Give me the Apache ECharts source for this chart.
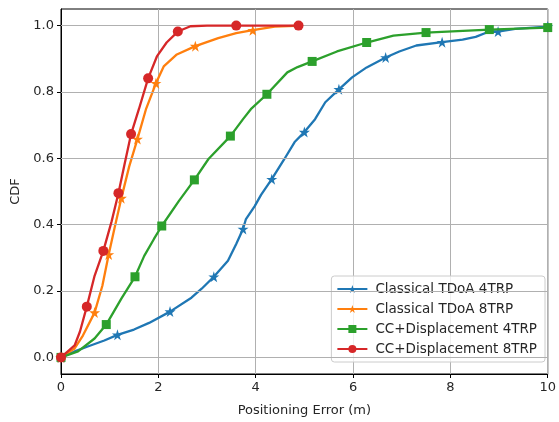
<!DOCTYPE html>
<html>
<head>
<meta charset="utf-8">
<script src="https://cdn.jsdelivr.net/npm/echarts@6/dist/echarts.min.js"></script>
<style>
  html, body { margin: 0; padding: 0; background: #fff; }
  #chart { width: 559px; height: 422px; }
</style>
</head>
<body>
<div id="chart"></div>
<script>
// Empirical CDFs of positioning error (m) for four localisation methods.
const seriesNames = [
  'Classical TDoA 4TRP',
  'Classical TDoA 8TRP',
  'CC+Displacement 4TRP',
  'CC+Displacement 8TRP'
];

const tdoa4X = [0, 0.28, 0.55, 0.89, 1.16, 1.5, 1.81, 2.24, 2.68, 2.89, 3.14, 3.43, 3.6, 3.74, 3.8, 3.98, 4.11, 4.33, 4.59, 4.8, 5.0, 5.22, 5.43, 5.71, 5.98, 6.28, 6.67, 6.95, 7.3, 7.83, 8.25, 8.52, 8.76, 8.98, 9.33, 10];
const tdoa4Y = [0, 0.018, 0.033, 0.051, 0.068, 0.084, 0.104, 0.138, 0.18, 0.207, 0.243, 0.291, 0.342, 0.387, 0.417, 0.456, 0.49, 0.537, 0.598, 0.649, 0.679, 0.718, 0.769, 0.808, 0.844, 0.874, 0.904, 0.922, 0.94, 0.95, 0.958, 0.966, 0.98, 0.982, 0.99, 0.997];
const tdoa4Marks = [0, 4, 7, 10, 13, 17, 20, 23, 26, 29, 33, 35];

const tdoa8X = [0, 0.28, 0.45, 0.69, 0.85, 0.98, 1.1, 1.24, 1.4, 1.57, 1.75, 1.95, 2.11, 2.38, 2.76, 3.23, 3.6, 3.94, 4.39, 4.95];
const tdoa8Y = [0, 0.027, 0.066, 0.135, 0.216, 0.31, 0.39, 0.48, 0.575, 0.658, 0.75, 0.826, 0.877, 0.913, 0.938, 0.962, 0.977, 0.986, 0.997, 1.0];
const tdoa8Marks = [0, 3, 5, 7, 9, 11, 14, 17];

const cc4X = [0, 0.35, 0.69, 0.93, 1.24, 1.52, 1.71, 1.91, 2.07, 2.42, 2.74, 3.03, 3.48, 3.74, 3.9, 4.23, 4.65, 4.86, 5.16, 5.67, 6.28, 6.83, 7.5, 8.8, 10];
const cc4Y = [0, 0.018, 0.057, 0.099, 0.177, 0.243, 0.306, 0.357, 0.396, 0.471, 0.535, 0.598, 0.667, 0.718, 0.748, 0.793, 0.859, 0.875, 0.892, 0.922, 0.949, 0.97, 0.979, 0.988, 0.994];
const cc4Marks = [0, 3, 5, 8, 10, 12, 15, 18, 20, 22, 23, 24];

const cc8X = [0, 0.28, 0.39, 0.53, 0.69, 0.87, 1.04, 1.18, 1.31, 1.44, 1.6, 1.79, 1.97, 2.17, 2.4, 2.66, 3.0, 3.6, 4.88];
const cc8Y = [0, 0.036, 0.078, 0.153, 0.246, 0.321, 0.41, 0.495, 0.585, 0.673, 0.748, 0.841, 0.907, 0.949, 0.982, 0.998, 1.0, 1.0, 1.0];
const cc8Marks = [0, 3, 5, 7, 9, 11, 14, 17, 18];

const xTicks = [0, 2, 4, 6, 8, 10];
const yTicks = [0, 0.2, 0.4, 0.6, 0.8, 1.0];

const colors = ['#1f77b4', '#ff7f0e', '#2ca02c', '#d62728'];
const STAR = 'path://M50,0 L61.2,34.5 L97.6,34.5 L68.2,55.9 L79.4,90.5 L50,69.1 L20.6,90.5 L31.8,55.9 L2.4,34.5 L38.8,34.5 Z';
const symbols = [STAR, STAR, 'rect', 'circle'];
const symbolSizes = [11, 11, 9, 10];

const zip = (xs, ys) => xs.map((x, i) => [x, ys[i]]);
const curves = [
  { x: tdoa4X, y: tdoa4Y, marks: tdoa4Marks },
  { x: tdoa8X, y: tdoa8Y, marks: tdoa8Marks },
  { x: cc4X, y: cc4Y, marks: cc4Marks },
  { x: cc8X, y: cc8Y, marks: cc8Marks }
];

const chart = echarts.init(document.getElementById('chart'), null, { renderer: 'canvas' });

const textColor = '#262626';
const gridColor = '#b0b0b0';
const font = 'DejaVu Sans';

// Horizontal grid lines at the labelled y ticks (the y range is padded past 0 and 1).
const yGridSeries = {
  type: 'line',
  name: '__ygrid',
  data: [],
  z: 1,
  silent: true,
  markLine: {
    silent: true,
    symbol: ['none', 'none'],
    label: { show: false },
    lineStyle: { color: gridColor, width: 1, type: 'solid' },
    emphasis: { disabled: true },
    animation: false,
    data: yTicks.map(v => ({ yAxis: v }))
  }
};

const lineSeries = curves.map((c, k) => ({
  type: 'line',
  name: seriesNames[k],
  data: zip(c.x, c.y),
  z: 3 + k,
  color: colors[k],
  lineStyle: { width: 2.3, color: colors[k] },
  itemStyle: { color: colors[k] },
  symbol: symbols[k],
  showSymbol: true,
  showAllSymbol: true,
  symbolSize: (val, p) => (c.marks.includes(p.dataIndex) ? symbolSizes[k] : 0),
  emphasis: { disabled: true },
  animation: false
}));

chart.setOption({
  backgroundColor: '#fff',
  animation: false,
  grid: {
    left: 61, right: 6, top: 9, bottom: 47,
    show: true, borderColor: '#000', borderWidth: 1, backgroundColor: 'transparent'
  },
  legend: {
    data: seriesNames,
    orient: 'vertical',
    right: 14,
    bottom: 60,
    itemWidth: 30,
    itemHeight: 10,
    itemGap: 6,
    padding: [6, 8, 6, 5],
    backgroundColor: 'rgba(255,255,255,0.8)',
    borderColor: '#cccccc',
    borderWidth: 1,
    borderRadius: 3,
    textStyle: { fontFamily: font, fontSize: 13.5, color: textColor, padding: [0, 0, 0, 3] }
  },
  xAxis: {
    type: 'value',
    min: 0, max: 10, interval: 2,
    name: 'Positioning Error (m)',
    nameLocation: 'middle',
    nameGap: 30,
    nameTextStyle: { fontFamily: font, fontSize: 13, color: textColor },
    axisLine: { show: true, onZero: false, lineStyle: { color: '#000', width: 1 } },
    axisTick: { show: true, inside: false, length: 4, lineStyle: { color: '#000' } },
    axisLabel: { fontFamily: font, fontSize: 13, color: textColor, margin: 7, formatter: v => String(v) },
    splitLine: { show: true, lineStyle: { color: gridColor, width: 1 } }
  },
  yAxis: {
    type: 'value',
    min: -0.05, max: 1.05,
    name: 'CDF',
    nameLocation: 'middle',
    nameGap: 38,
    nameRotate: 90,
    nameTextStyle: { fontFamily: font, fontSize: 13, color: textColor },
    axisLine: { show: true, onZero: false, lineStyle: { color: '#000', width: 1 } },
    axisTick: { show: true, inside: false, length: 4, lineStyle: { color: '#000' }, customValues: yTicks },
    axisLabel: { fontFamily: font, fontSize: 13, color: textColor, margin: 7, customValues: yTicks, formatter: v => Number(v).toFixed(1) },
    splitLine: { show: false }
  },
  series: [yGridSeries].concat(lineSeries)
});
</script>
</body>
</html>
